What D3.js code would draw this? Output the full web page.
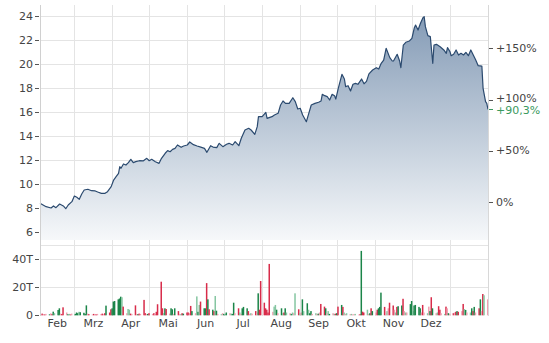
<!DOCTYPE html>
<html>
<head>
<meta charset="utf-8">
<script src="https://cdn.jsdelivr.net/npm/d3@7"></script>
<style>
  body { margin: 0; background: #fff; }
  svg text { font-family: 'DejaVu Sans', Verdana, sans-serif; font-size: 11px; fill: #444; }
</style>
</head>
<body>
<svg width="549" height="343"></svg>
<script>
// price readings [date, close]
const priceData = [
  ['2021-02-01',8.39],['2021-02-06',8.11],['2021-02-10',8.00],['2021-02-12',8.17],['2021-02-14',8.03],['2021-02-17',8.33],['2021-02-20',8.17],['2021-02-22',7.94],['2021-02-24',8.25],['2021-02-27',8.53],
  ['2021-03-01',9.00],['2021-03-03',8.89],['2021-03-05',8.72],['2021-03-07',9.17],['2021-03-09',9.50],['2021-03-12',9.56],['2021-03-15',9.44],['2021-03-18',9.42],['2021-03-20',9.33],['2021-03-23',9.22],['2021-03-26',9.22],['2021-03-28',9.36],['2021-03-31',9.78],
  ['2021-04-02',10.33],['2021-04-04',10.61],['2021-04-06',10.89],['2021-04-07',11.44],['2021-04-08',11.31],['2021-04-10',11.67],['2021-04-12',11.58],['2021-04-14',11.78],['2021-04-16',12.06],['2021-04-18',11.78],['2021-04-20',11.86],['2021-04-23',11.94],['2021-04-26',11.92],['2021-04-29',12.14],
  ['2021-05-01',11.94],['2021-05-03',12.06],['2021-05-06',11.86],['2021-05-09',11.72],['2021-05-11',12.14],['2021-05-14',12.56],['2021-05-16',12.78],['2021-05-18',12.69],['2021-05-20',12.89],['2021-05-22',12.97],['2021-05-24',13.25],['2021-05-27',13.06],['2021-05-29',13.17],
  ['2021-06-01',13.25],['2021-06-03',13.50],['2021-06-06',13.28],['2021-06-09',13.17],['2021-06-12',13.07],['2021-06-15',12.97],['2021-06-17',12.64],['2021-06-20',13.19],['2021-06-22',13.08],['2021-06-25',13.03],['2021-06-27',13.39],['2021-06-30',13.11],
  ['2021-07-03',13.31],['2021-07-05',13.39],['2021-07-08',13.25],['2021-07-10',13.53],['2021-07-13',13.19],['2021-07-15',13.81],['2021-07-18',14.50],['2021-07-21',14.64],['2021-07-23',14.50],['2021-07-26',14.14],['2021-07-28',14.78],['2021-07-29',15.61],
  ['2021-08-01',15.61],['2021-08-04',15.97],['2021-08-05',15.47],['2021-08-09',15.61],['2021-08-11',15.75],['2021-08-14',15.89],['2021-08-16',16.58],['2021-08-18',16.92],['2021-08-20',16.72],['2021-08-23',16.72],['2021-08-26',17.19],['2021-08-28',16.86],['2021-08-30',16.25],
  ['2021-09-01',16.31],['2021-09-03',15.75],['2021-09-06',15.19],['2021-09-08',15.89],['2021-09-10',16.58],['2021-09-13',16.72],['2021-09-16',16.81],['2021-09-18',16.92],['2021-09-19',17.47],['2021-09-21',17.36],['2021-09-23',17.28],['2021-09-25',17.00],['2021-09-27',17.47],['2021-09-29',17.36],['2021-09-30',17.08],
  ['2021-10-02',17.97],['2021-10-05',19.14],['2021-10-07',18.75],['2021-10-08',18.11],['2021-10-10',18.19],['2021-10-12',17.75],['2021-10-14',18.31],['2021-10-16',18.39],['2021-10-18',18.31],['2021-10-20',18.60],['2021-10-21',18.75],['2021-10-23',18.35],['2021-10-25',18.55],['2021-10-27',19.18],['2021-10-30',19.50],
  ['2021-11-02',19.69],['2021-11-04',19.58],['2021-11-06',20.06],['2021-11-08',20.33],['2021-11-10',21.31],['2021-11-13',20.53],['2021-11-15',20.25],['2021-11-16',20.25],['2021-11-19',20.81],['2021-11-21',20.25],['2021-11-22',19.69],['2021-11-24',21.58],['2021-11-26',21.81],['2021-11-29',21.92],
  ['2021-12-01',22.14],['2021-12-03',23.03],['2021-12-04',23.25],['2021-12-06',22.83],['2021-12-08',23.39],['2021-12-10',23.86],['2021-12-11',23.94],['2021-12-12',23.11],['2021-12-14',22.36],['2021-12-16',22.28],['2021-12-18',20.06],['2021-12-19',21.58],['2021-12-21',21.64],['2021-12-24',21.44],['2021-12-27',21.17],['2021-12-29',20.89],['2021-12-30',21.36],
  ['2022-01-01',21.03],['2022-01-02',20.69],['2022-01-04',20.81],['2022-01-06',21.17],['2022-01-08',20.75],['2022-01-10',20.89],['2022-01-12',20.75],['2022-01-14',20.97],['2022-01-16',20.69],['2022-01-18',21.17],['2022-01-20',20.75],['2022-01-22',20.33],['2022-01-24',19.86],['2022-01-27',19.83],['2022-01-28',17.97],['2022-01-30',16.86],['2022-01-31',16.72],['2022-02-01',16.21]
];

const refPrice = 8.52; // 0% level

const priceTicks = [6, 8, 10, 12, 14, 16, 18, 20, 22, 24];
const pctTicks = [0, 50, 100, 150];
const volTicks = [0, 20, 40];
const monthLabels = ['Feb', 'Mrz', 'Apr', 'Mai', 'Jun', 'Jul', 'Aug', 'Sep', 'Okt', 'Nov', 'Dez'];

// volume (thousands) per trading day, one row per month Feb..Jan
const volumes = [
  [0.5,1.2,0.8,0.6,1.0, 0.7,1.4,0.8,2.6,1.5, 3.8,5.0,1.2,0.9,5.7, 2.0,0.8,1.0,0.6,1.2],
  [1.0,2.0,1.5,2.5,2.2, 1.8,1.0,7.1,1.2,0.8, 0.6,1.0,0.8,0.7,1.0, 0.9,1.2,0.8,1.5,6.9, 2.0,4.3,5.0],
  [9.8,10.2,11.4,12.0,13.3, 12.9,6.2,1.5,4.5,4.0, 1.2,1.0,7.1,1.0,0.8, 1.2,1.0,11.0,1.5,0.8, 1.0,1.5],
  [1.0,1.5,0.8,2.5,7.9, 24.0,5.0,1.5,5.0,4.5, 1.2,5.0,4.3,1.0,5.0, 3.0,1.0,0.8,1.5,1.2, 2.0],
  [2.0,1.5,6.7,3.0,1.5, 13.5,2.5,7.4,9.8,5.0, 5.0,23.0,11.4,4.3,4.0, 3.0,13.8,3.3,1.0,0.8, 1.5,1.0],
  [1.0,2.0,1.5,1.2,1.0, 9.0,1.5,5.0,2.0,1.0, 5.0,6.0,5.0,3.0,1.0, 1.5,1.2,3.0,2.0,15.7, 4.0,24.5],
  [9.0,5.0,4.0,2.0,36.7, 2.5,6.2,7.4,4.0,1.5, 5.0,1.5,2.0,5.0,2.0, 1.5,1.0,2.0,1.5,15.7, 4.3,1.5],
  [2.0,11.4,3.0,8.6,4.0, 1.5,3.0,1.0,1.5,1.0, 1.2,2.0,8.1,6.2,5.0, 1.5,3.0,1.0,1.5,1.0, 1.2,1.5],
  [6.2,7.4,6.0,2.0,1.0, 1.5,0.8,1.0,0.6,0.8, 1.0,0.5,0.8,46.0,2.6, 2.0,4.0,1.0,1.5,5.0, 3.0],
  [2.0,4.0,5.0,6.0,16.2, 6.0,2.0,3.0,5.0,9.0, 7.0,4.0,2.0,6.0,6.5, 7.0,11.8,3.0,2.0,2.0, 8.0,10.2],
  [3.0,7.0,7.4,6.0,5.0, 2.0,7.4,2.0,1.5,6.2, 3.0,12.9,5.0,1.5,2.0, 6.5,4.0,1.5,1.0,6.2, 5.0,1.5,1.0],
  [1.5,2.0,2.5,3.0,2.5, 3.0,8.1,4.5,3.8,2.0, 2.0,5.0,3.0,6.0,2.0, 5.0,11.4,3.0,15.2,14.3, 11.4]
];
// g = up, r = down, G/R = lighter shade
const volColors = [
  'RrRrRgRrgGggRrrRgGrR',
  'gggGggggRrRrRrRRrRrgrrg',
  'gggggGrRGGrRrRgrRrrRgr',
  'RrRrrrrGgrRggRgrRGrgr',
  'rRrgRGgGrggrgrgrGgRGRg',
  'GgRGggRrGRgggrRGRrRgrr',
  'rrrrrRGGgRgGrgGRgGRGrG',
  'RgGgGggRGRgRrrgRGgRGrg',
  'rgrGRGRGRRGRrgrrGRgrg',
  'RrgggrRGRrrRGrggrRGRgg',
  'GggggRrRGRgrgRGrrRGrRgR',
  'rRrgrRrGgRGgrgRrgRrGR'
];

const parse = d3.timeParse('%Y-%m-%d');
const prices = priceData.map(([d, v]) => ({ date: parse(d), value: v }));

const start = parse('2021-02-01');
const end = parse('2022-02-01');
const tradingDays = d3.timeDay.range(start, end).filter((d) => d.getDay() !== 0 && d.getDay() !== 6);
const volFlat = volumes.flat();
const colFlat = volColors.join('');
const volData = tradingDays.map((d, i) => ({ date: d, value: volFlat[i] || 0, c: colFlat[i] || 'g' }));

const left = 40, right = 488;
const priceTop = 5, priceBottom = 240;
const volTop = 245.3, volBottom = 316;

const x = d3.scaleTime([start, end], [left, right]);
const y = d3.scaleLinear([6, 24], [232, 16]);
const yPct = (p) => y(refPrice * (1 + p / 100));
const yVol = d3.scaleLinear([0, 50], [315.3, volTop]);

const colorMap = { g: '#1b8549', r: '#d82c4a', G: '#86c6a2', R: '#f09fb0' };
const grid = '#e4e4e4';

const svg = d3.select('svg');

const defs = svg.append('defs');
const grad = defs.append('linearGradient')
  .attr('id', 'areaFill')
  .attr('gradientUnits', 'userSpaceOnUse')
  .attr('x1', 0).attr('x2', 0)
  .attr('y1', priceTop).attr('y2', priceBottom);
grad.append('stop').attr('offset', 0).attr('stop-color', '#7f97b3');
grad.append('stop').attr('offset', 1).attr('stop-color', '#f6f8fa');

// month grid lines
const monthStarts = d3.timeMonth.range(start, end).slice(1);
svg.append('g')
  .selectAll('line')
  .data(monthStarts)
  .join('line')
    .attr('x1', (d) => Math.round(x(d)) + 0.5)
    .attr('x2', (d) => Math.round(x(d)) + 0.5)
    .attr('y1', priceTop)
    .attr('y2', volBottom)
    .attr('stroke', grid);

// horizontal grid (price)
svg.append('g')
  .selectAll('line')
  .data(priceTicks)
  .join('line')
    .attr('x1', left)
    .attr('x2', right)
    .attr('y1', (d) => Math.round(y(d)) + 0.5)
    .attr('y2', (d) => Math.round(y(d)) + 0.5)
    .attr('stroke', grid);

// horizontal grid (volume)
svg.append('g')
  .selectAll('line')
  .data([20, 40, 50])
  .join('line')
    .attr('x1', left)
    .attr('x2', right)
    .attr('y1', (d) => Math.round(yVol(d)) + 0.5)
    .attr('y2', (d) => Math.round(yVol(d)) + 0.5)
    .attr('stroke', grid);

// area + line
const area = d3.area()
  .x((d) => x(d.date))
  .y0(priceBottom)
  .y1((d) => y(d.value));
const line = d3.line()
  .x((d) => x(d.date))
  .y((d) => y(d.value));

svg.append('path')
  .attr('d', area(prices))
  .attr('fill', 'url(#areaFill)');

svg.append('path')
  .attr('d', line(prices))
  .attr('fill', 'none')
  .attr('stroke', '#2b4a6f')
  .attr('stroke-width', 1.2)
  .attr('stroke-linejoin', 'round');

// volume bars
svg.append('g')
  .selectAll('rect')
  .data(volData)
  .join('rect')
    .attr('x', (d) => x(d.date) + 0.2)
    .attr('width', 1.5)
    .attr('y', (d) => yVol(d.value))
    .attr('height', (d) => yVol(0) - yVol(d.value))
    .attr('fill', (d) => colorMap[d.c]);

// frame lines
svg.append('line')
  .attr('x1', left + 0.5).attr('x2', left + 0.5)
  .attr('y1', priceTop).attr('y2', volBottom)
  .attr('stroke', '#d0d0d0');
svg.append('line')
  .attr('x1', right + 0.5).attr('x2', right + 0.5)
  .attr('y1', priceTop).attr('y2', volBottom)
  .attr('stroke', '#d8d8d8');

// left price axis
const yAxis = svg.append('g');
yAxis.selectAll('line')
  .data(priceTicks)
  .join('line')
    .attr('x1', 35).attr('x2', 39)
    .attr('y1', (d) => Math.round(y(d)) + 0.5)
    .attr('y2', (d) => Math.round(y(d)) + 0.5)
    .attr('stroke', '#555');
yAxis.selectAll('text')
  .data(priceTicks)
  .join('text')
    .text((d) => d)
    .attr('x', 33)
    .attr('y', (d) => y(d))
    .attr('dy', '0.35em')
    .attr('text-anchor', 'end');

// right percent axis
const pAxis = svg.append('g');
pAxis.selectAll('line')
  .data(pctTicks)
  .join('line')
    .attr('x1', 489).attr('x2', 493)
    .attr('y1', (d) => Math.round(yPct(d)) + 0.5)
    .attr('y2', (d) => Math.round(yPct(d)) + 0.5)
    .attr('stroke', '#555');
pAxis.selectAll('text')
  .data(pctTicks)
  .join('text')
    .text((d) => (d > 0 ? '+' : '') + d + '%')
    .attr('x', 496)
    .attr('y', (d) => yPct(d) - (d === 100 ? 1 : 0))
    .attr('dy', '0.35em');

// last value marker
const last = prices[prices.length - 1];
const lastPct = (last.value / refPrice - 1) * 100;
const green = '#3a9a60';
svg.append('line')
  .attr('x1', 489).attr('x2', 493)
  .attr('y1', Math.round(y(last.value)) + 0.5)
  .attr('y2', Math.round(y(last.value)) + 0.5)
  .attr('stroke', green);
svg.append('text')
  .text('+' + lastPct.toFixed(1).replace('.', ',') + '%')
  .attr('x', 496)
  .attr('y', y(last.value) + 1)
  .attr('dy', '0.35em')
  .style('fill', green);

// volume axis
const vAxis = svg.append('g');
vAxis.selectAll('line')
  .data(volTicks)
  .join('line')
    .attr('x1', 35).attr('x2', 39)
    .attr('y1', (d) => Math.round(yVol(d)) + 0.5)
    .attr('y2', (d) => Math.round(yVol(d)) + 0.5)
    .attr('stroke', '#555');
vAxis.selectAll('text')
  .data(volTicks)
  .join('text')
    .text((d) => (d === 0 ? '0' : d + 'T'))
    .attr('x', 33)
    .attr('y', (d) => yVol(d))
    .attr('dy', '0.35em')
    .attr('text-anchor', 'end');

// month labels, centred in each month
const labelMonths = d3.timeMonth.range(start, parse('2022-01-01'));
svg.append('g')
  .selectAll('text')
  .data(labelMonths)
  .join('text')
    .text((d, i) => monthLabels[i])
    .attr('x', (d) => (x(d) + x(d3.timeMonth.offset(d, 1))) / 2)
    .attr('y', 327)
    .attr('text-anchor', 'middle');
</script>
</body>
</html>
